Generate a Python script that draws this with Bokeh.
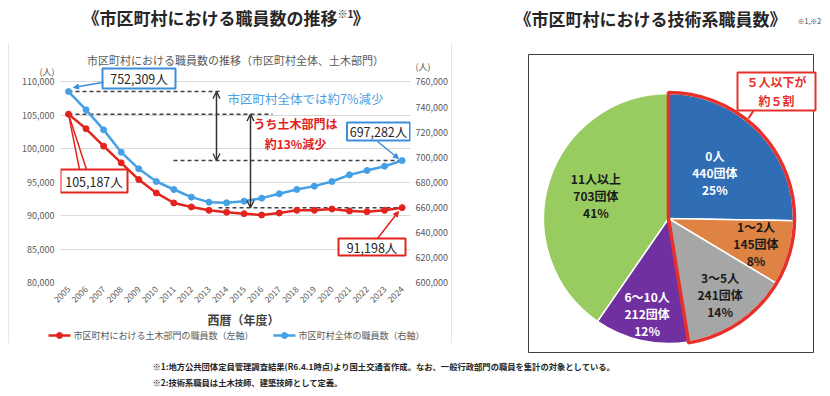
import math
from bokeh.plotting import figure
from bokeh.models import (Range1d, LinearAxis, FixedTicker, NumeralTickFormatter,
                          Arrow, NormalHead, OpenHead)
from bokeh.layouts import row, column
from bokeh.embed import file_html
from bokeh.resources import INLINE
from bokeh.core.properties import value

FONT = "Noto Sans CJK JP"

# ---------------- data ----------------
years = list(range(2005, 2025))
year_labels = [str(y) for y in years]
civil = [105187, 103000, 100400, 97900, 95400, 93400, 91900, 91300, 90800, 90500,
         90300, 90100, 90400, 90800, 90800, 91000, 90700, 90600, 90800, 91198]
total = [752309, 737800, 721800, 704000, 690700, 680600, 674200, 668100, 664100, 663600,
         664900, 667300, 670800, 674200, 676900, 680600, 685900, 689400, 692800, 697282]
left_ticks = [80000, 85000, 90000, 95000, 100000, 105000, 110000]
right_ticks = [600000, 620000, 640000, 660000, 680000, 700000, 720000, 740000, 760000]
left_unit_tick = 111500
right_unit_tick = 772000
series_names = ["市区町村における土木部門の職員数（左軸）", "市区町村全体の職員数（右軸）"]

pie_cats = ["0人", "1～2人", "3～5人", "6～10人", "11人以上"]
pie_counts = [440, 145, 241, 212, 703]
pie_pcts = ["25%", "8%", "14%", "12%", "41%"]

# ---------------- styles ----------------
RED = "#E3231D"
BLUE = "#45A0E5"
BLUE_BOX = "#3C8DDC"
BLUE_TXT = "#4E9DE0"
GRAY_TXT = "#595959"
BOXC = "#D0D0D0"
PIE_COLORS = ["#2F6DB5", "#DF8344", "#A6A6A6", "#7030A0", "#99CC60"]
PIE_TXT = ["white", "#1a1a1a", "#1a1a1a", "white", "#1a1a1a"]
LABEL_R = [65, 91, 92, 97, 76]
PIE_RED = "#E8302A"

BASE = dict(output_backend="svg", toolbar_location=None)


def blank(w, h, xr=None, yr=None, fill=None):
    kw = {}
    if xr is not None:
        kw["x_range"] = Range1d(*xr)
        kw["y_range"] = Range1d(*yr)
    f = figure(width=w, height=h, min_border=0, x_axis_type=None, y_axis_type=None,
               frame_align=False, **kw, **BASE)
    f.outline_line_color = None
    if fill is not None:
        f.background_fill_color = fill
        f.border_fill_color = fill
    return f


# ---------------- top band (titles) ----------------
T = blank(830, 43, (0, 830), (-43, 0))
T.text(x=[82, 352], y=[-17, -17], text=["《市区町村における職員数の推移", "》"],
       text_font=value(FONT), text_font_size=value("17px"), text_font_style="bold",
       text_color="#262626", text_align="left", text_baseline="middle")
T.text(x=[337], y=[-13], text=["※1"], text_font=value(FONT), text_font_size=value("10px"),
       text_font_style="bold", text_color="#262626", text_align="left", text_baseline="middle")
T.text(x=[650], y=[-18], text=["《市区町村における技術系職員数》"], text_font=value(FONT),
       text_font_size=value("17px"), text_font_style="bold", text_color="#262626",
       text_align="center", text_baseline="middle")
T.text(x=[797], y=[-20], text=["※1,※2"], text_font=value(FONT), text_font_size=value("7px"),
       text_color="#404040", text_align="left", text_baseline="middle")

# ---------------- left chart ----------------
# frame: image x 60..410, image y 44..282 ; 80,000 at y=282, 5,000 per 33.42px
XL0, XL1 = 2004.544, 2024.475
FR_L, FR_W, FR_B, FR_T = 60, 350, 282, 44
PX_L = 217 / 32466.0          # px per left unit
PX_R = PX_L / (160000 / 30000)  # px per right unit
YL0 = 80000
YL1 = YL0 + (FR_B - FR_T) / PX_L
YR0 = 600000
YR1 = YR0 + (FR_B - FR_T) / PX_R


def X(ximg):
    return XL0 + (ximg - FR_L) * (XL1 - XL0) / FR_W


def Y(yimg):
    return YL0 + (FR_B - yimg) / PX_L


p = figure(frame_width=FR_W, frame_height=FR_B - FR_T, x_range=Range1d(XL0, XL1),
           y_range=Range1d(YL0, YL1), min_border_left=51, min_border_right=41,
           min_border_top=0, min_border_bottom=28, frame_align=False, **BASE)
p.outline_line_color = None
p.xgrid.visible = False
p.ygrid.ticker = FixedTicker(ticks=left_ticks)
p.ygrid.grid_line_color = "#D9D9D9"
p.extra_y_ranges = {"right": Range1d(YR0, YR1)}

ax2 = LinearAxis(y_range_name="right", ticker=FixedTicker(ticks=right_ticks + [right_unit_tick]),
                 formatter=NumeralTickFormatter(format="0,0"))
ax2.major_label_overrides = {right_unit_tick: "(人)"}
p.add_layout(ax2, "right")
ax1 = p.yaxis[0]
ax1.ticker = FixedTicker(ticks=left_ticks + [left_unit_tick])
ax1.formatter = NumeralTickFormatter(format="0,0")
ax1.major_label_overrides = {left_unit_tick: "(人)"}
xa = p.xaxis[0]
xa.ticker = FixedTicker(ticks=years)
xa.major_label_overrides = {y: s for y, s in zip(years, year_labels)}
xa.major_label_orientation = math.pi / 4
xa.major_label_standoff = 5
ax1.major_label_standoff = 6
ax2.major_label_standoff = 5
for ax in [xa, ax1, ax2]:
    ax.axis_line_color = None
    ax.major_tick_line_color = None
    ax.minor_tick_line_color = None
    ax.major_tick_out = 0
    ax.major_tick_in = 0
    ax.minor_tick_out = 0
    ax.minor_tick_in = 0
    ax.major_label_text_font = FONT
    ax.major_label_text_font_size = "9px"
    ax.major_label_text_color = GRAY_TXT
xa.major_label_text_font_size = "8.5px"

# subtitle inside the frame's top strip
p.text(x=[X(235)], y=[Y(59)], text=["市区町村における職員数の推移（市区町村全体、土木部門）"],
       text_font=value(FONT), text_font_size=value("11px"), text_color=GRAY_TXT,
       text_align="center", text_baseline="middle")

# dashed reference lines
DASH = dict(line_color="#404040", line_width=1.5, line_dash="4 3")
p.segment(x0=[years[0]], y0=[total[0]], x1=[X(222)], y1=[total[0]], y_range_name="right", **DASH)
p.segment(x0=[X(173)], y0=[total[-1]], x1=[years[-1]], y1=[total[-1]], y_range_name="right", **DASH)
p.segment(x0=[years[0]], y0=[civil[0]], x1=[X(272)], y1=[civil[0]], **DASH)
p.segment(x0=[X(218)], y0=[civil[-1]], x1=[years[-1]], y1=[civil[-1]], **DASH)

# series
p.line(years, civil, line_color=RED, line_width=2.5)
p.scatter(years, civil, size=6, color=RED)
p.line(years, total, line_color=BLUE, line_width=2.5, y_range_name="right")
p.scatter(years, total, size=6, color=BLUE, y_range_name="right")

# double arrows
for xs, y0, y1, rn in [(X(216), total[0], total[-1], "right"), (X(250), civil[0], civil[-1], "default")]:
    p.add_layout(Arrow(start=OpenHead(size=7, line_width=1.3, line_color="#333333"),
                       end=OpenHead(size=7, line_width=1.3, line_color="#333333"),
                       x_start=xs, y_start=y0, x_end=xs, y_end=y1, y_range_name=rn,
                       line_color="#333333", line_width=1.5))

# change texts
p.text(x=[X(305)], y=[Y(98)], text=["市区町村全体では約7%減少"], text_font=value(FONT),
       text_font_size=value("12.5px"), text_color=BLUE_TXT, text_align="center", text_baseline="middle")
p.text(x=[X(295), X(295)], y=[Y(123), Y(143)], text=["うち土木部門は", "約13%減少"], text_font=value(FONT),
       text_font_size=value("12px"), text_font_style="bold", text_color=RED,
       text_align="center", text_baseline="middle")

# callout leaders
p.add_layout(Arrow(end=NormalHead(size=5, fill_color=BLUE_BOX, line_color=BLUE_BOX),
                   x_start=X(103), y_start=Y(81.7), x_end=X(73), y_end=Y(87),
                   line_color=BLUE_BOX, line_width=1.5))
p.segment(x0=[years[0], years[0]], y0=[civil[0], civil[0]], x1=[X(86), X(79)], y1=[Y(169), Y(169)],
          line_color=RED, line_width=1.5)
p.add_layout(Arrow(end=NormalHead(size=5, fill_color=BLUE_BOX, line_color=BLUE_BOX),
                   x_start=X(377), y_start=Y(141), x_end=X(398), y_end=Y(158),
                   line_color=BLUE_BOX, line_width=1.5))
p.add_layout(Arrow(end=NormalHead(size=5, fill_color=RED, line_color=RED),
                   x_start=X(377), y_start=Y(238), x_end=X(398), y_end=Y(211),
                   line_color=RED, line_width=1.5))

# callout boxes
box_cx = [X(138.5), X(93.5), X(378), X(371.5)]
box_cy = [Y(78), Y(180.5), Y(131), Y(246.5)]
box_w = [73, 67, 63, 67]
box_h = [20, 23, 18, 17]
box_c = [BLUE_BOX, RED, BLUE_BOX, RED]
box_t = [f"{total[0]:,}人", f"{civil[0]:,}人", f"{total[-1]:,}人", f"{civil[-1]:,}人"]
p.rect(x=box_cx, y=box_cy, width=box_w, height=box_h, width_units="screen", height_units="screen",
       fill_color="white", line_color=box_c, line_width=2)
p.text(x=box_cx, y=box_cy, text=box_t, text_font=value(FONT), text_font_size=value("12.5px"),
       text_color="#262626", text_align="center", text_baseline="middle")

# bottom band: axis title + legend (image y 310..342)
B = blank(442, 32, (9, 451), (-342, -310))
B.text(x=[243], y=[-319], text=["西暦（年度）"], text_font=value(FONT), text_font_size=value("12px"),
       text_font_style="bold", text_color="#404040", text_align="center", text_baseline="middle")
B.segment(x0=[48, 273], y0=[-335, -335], x1=[70, 295], y1=[-335, -335], line_color=[RED, BLUE], line_width=2.5)
B.scatter(x=[59, 284], y=[-335, -335], size=6, color=[RED, BLUE])
B.text(x=[73, 298], y=[-335, -335], text=series_names, text_font=value(FONT), text_font_size=value("9px"),
       text_color=GRAY_TXT, text_align="left", text_baseline="middle")

left_block = row(
    blank(8, 300, fill="white"),
    blank(1, 300, fill=BOXC),
    column(blank(442, 1, fill=BOXC), p, B, blank(442, 1, fill=BOXC)),
    blank(1, 300, fill=BOXC),
)

# ---------------- right pie ----------------
q = blank(378, 312, (452, 830), (-355, -43))

CX, CY, R = 668, -218, 125
n = sum(pie_counts)
cum = [0]
for c in pie_counts:
    cum.append(cum[-1] + c / n)
starts = [math.pi / 2 - 2 * math.pi * a for a in cum[:-1]]
ends = [math.pi / 2 - 2 * math.pi * b for b in cum[1:]]

q.rect(x=[670.5], y=[-203], width=[285], height=[298], fill_color=None, line_color="#404040", line_width=1)
q.wedge(x=CX, y=CY, radius=R, start_angle=starts, end_angle=ends, direction="clock",
        fill_color=PIE_COLORS, line_color="white", line_width=1.5)
q.wedge(x=CX, y=CY, radius=R + 1, start_angle=starts[0], end_angle=ends[2], direction="clock",
        fill_color=None, line_color=PIE_RED, line_width=3.5)

for i in range(len(pie_counts)):
    mid = (starts[i] + ends[i]) / 2
    lx = CX + LABEL_R[i] * math.cos(mid)
    ly = CY + LABEL_R[i] * math.sin(mid)
    q.text(x=[lx, lx, lx], y=[ly + 17, ly, ly - 17],
           text=[pie_cats[i], f"{pie_counts[i]}団体", pie_pcts[i]],
           text_font=value(FONT), text_font_size=value("12px"), text_font_style="bold",
           text_color=PIE_TXT[i], text_align="center", text_baseline="middle")

q.segment(x0=[753], y0=[-110], x1=[748], y1=[-118], line_color=PIE_RED, line_width=2)
q.rect(x=[776], y=[-91], width=[78], height=[38], fill_color="white", line_color=PIE_RED, line_width=2)
q.text(x=[776, 776], y=[-81, -100], text=["５人以下が", "約５割"], text_font=value(FONT),
       text_font_size=value("12px"), text_font_style="bold", text_color=PIE_RED,
       text_align="center", text_baseline="middle")

# ---------------- footnotes ----------------
F = blank(830, 41, (0, 830), (-396, -355))
F.text(x=[152, 152], y=[-365, -381],
       text=["※1:地方公共団体定員管理調査結果(R6.4.1時点)より国土交通省作成。なお、一般行政部門の職員を集計の対象としている。",
             "※2:技術系職員は土木技師、建築技師として定義。"],
       text_font=value(FONT), text_font_size=value("8.3px"), text_font_style="bold",
       text_color="#262626", text_align="left", text_baseline="middle")

layout = column(T, row(left_block, q), F)
open("out.html", "w").write(file_html(layout, INLINE))
